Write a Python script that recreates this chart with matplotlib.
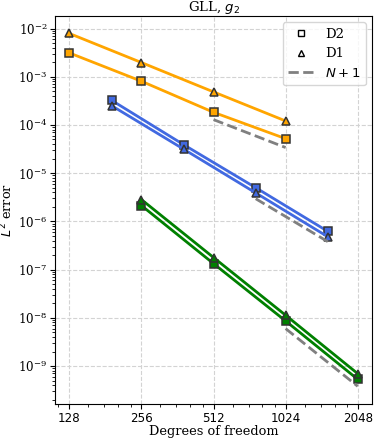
import numpy as np
import matplotlib
matplotlib.use("Agg")
import matplotlib.pyplot as plt
from matplotlib.ticker import LogLocator, FixedLocator, NullFormatter
from matplotlib.lines import Line2D

plt.rcParams['font.family'] = 'DejaVu Serif'
plt.rcParams['mathtext.fontset'] = 'dejavusans'

# degrees of freedom per polynomial order
dof_n1 = [128, 256, 512, 1024]
dof_n2 = [192, 384, 768, 1536]
dof_n3 = [256, 512, 1024, 2048]

# L2 errors
d2_n1 = [3.12e-3, 8.07e-4, 1.83e-4, 5.2e-5]
d1_n1 = [7.9e-3, 1.97e-3, 4.85e-4, 1.21e-4]
d2_n2 = [3.25e-4, 3.9e-5, 5.0e-6, 6.2e-7]
d1_n2 = [2.52e-4, 3.15e-5, 3.9e-6, 4.8e-7]
d2_n3 = [2.13e-6, 1.33e-7, 8.6e-9, 5.3e-10]
d1_n3 = [2.83e-6, 1.78e-7, 1.13e-8, 6.95e-10]

# N+1 reference slopes (last two points)
ref_n1_x = [512, 1024]
ref_n1_y = [1.29e-4, 3.4e-5]
ref_n2_x = [768, 1536]
ref_n2_y = [2.95e-6, 3.8e-7]
ref_n3_x = [1024, 2048]
ref_n3_y = [5.97e-9, 3.8e-10]

xticks = [128, 256, 512, 1024, 2048]

fig = plt.figure(figsize=(3.74, 4.40), dpi=100)
ax = fig.add_subplot(111)
fig.subplots_adjust(left=0.147, right=0.995, top=0.964, bottom=0.082)

series = [
    (dof_n1, d2_n1, d1_n1, ref_n1_x, ref_n1_y, 'orange'),
    (dof_n2, d2_n2, d1_n2, ref_n2_x, ref_n2_y, 'royalblue'),
    (dof_n3, d2_n3, d1_n3, ref_n3_x, ref_n3_y, 'green'),
]
for x, e2, e1, rx, ry, c in series:
    ax.plot(x, e2, '-s', color=c, lw=2, ms=5.5, mfc=c, mec='0.2', mew=1.1)
    ax.plot(x, e1, '-^', color=c, lw=2, ms=5.5, mfc=c, mec='0.2', mew=1.1)
    ax.plot(rx, ry, '--', color='gray', lw=2)

ax.set_xscale('log', base=2)
ax.set_yscale('log')
ax.xaxis.set_major_locator(FixedLocator(xticks))
ax.set_xticklabels([str(t) for t in xticks], fontfamily='DejaVu Sans', fontsize=8.6)
ax.xaxis.set_minor_locator(LogLocator(base=2, subs=[1.2, 1.4, 1.6, 1.8]))
ax.xaxis.set_minor_formatter(NullFormatter())
ax.yaxis.set_minor_locator(LogLocator(base=10, subs=np.arange(2, 10), numticks=30))
ax.yaxis.set_minor_formatter(NullFormatter())
ax.yaxis.set_major_locator(LogLocator(base=10, numticks=30))
ax.tick_params(axis='y', labelsize=8.6)
ax.tick_params(axis='both', which='major', pad=2)

ax.grid(True, which='major', ls='--', color='lightgray', lw=0.8)

ax.set_title('GLL, $g_2$', fontsize=9.5, pad=2.5)
ax.set_xlabel('Degrees of freedom', fontsize=9.3, labelpad=0.5)
ax.set_ylabel('$L^2$ error', fontsize=9.3, labelpad=2)

handles = [
    Line2D([], [], ls='none', marker='s', mfc='none', mec='k', ms=4.5),
    Line2D([], [], ls='none', marker='^', mfc='none', mec='k', ms=4.5),
    Line2D([], [], ls='--', color='gray', lw=2),
]
ax.legend(handles, ['D2', 'D1', '$N+1$'], loc='upper right', fontsize=9.5)

fig.savefig('out.png', dpi=100)
